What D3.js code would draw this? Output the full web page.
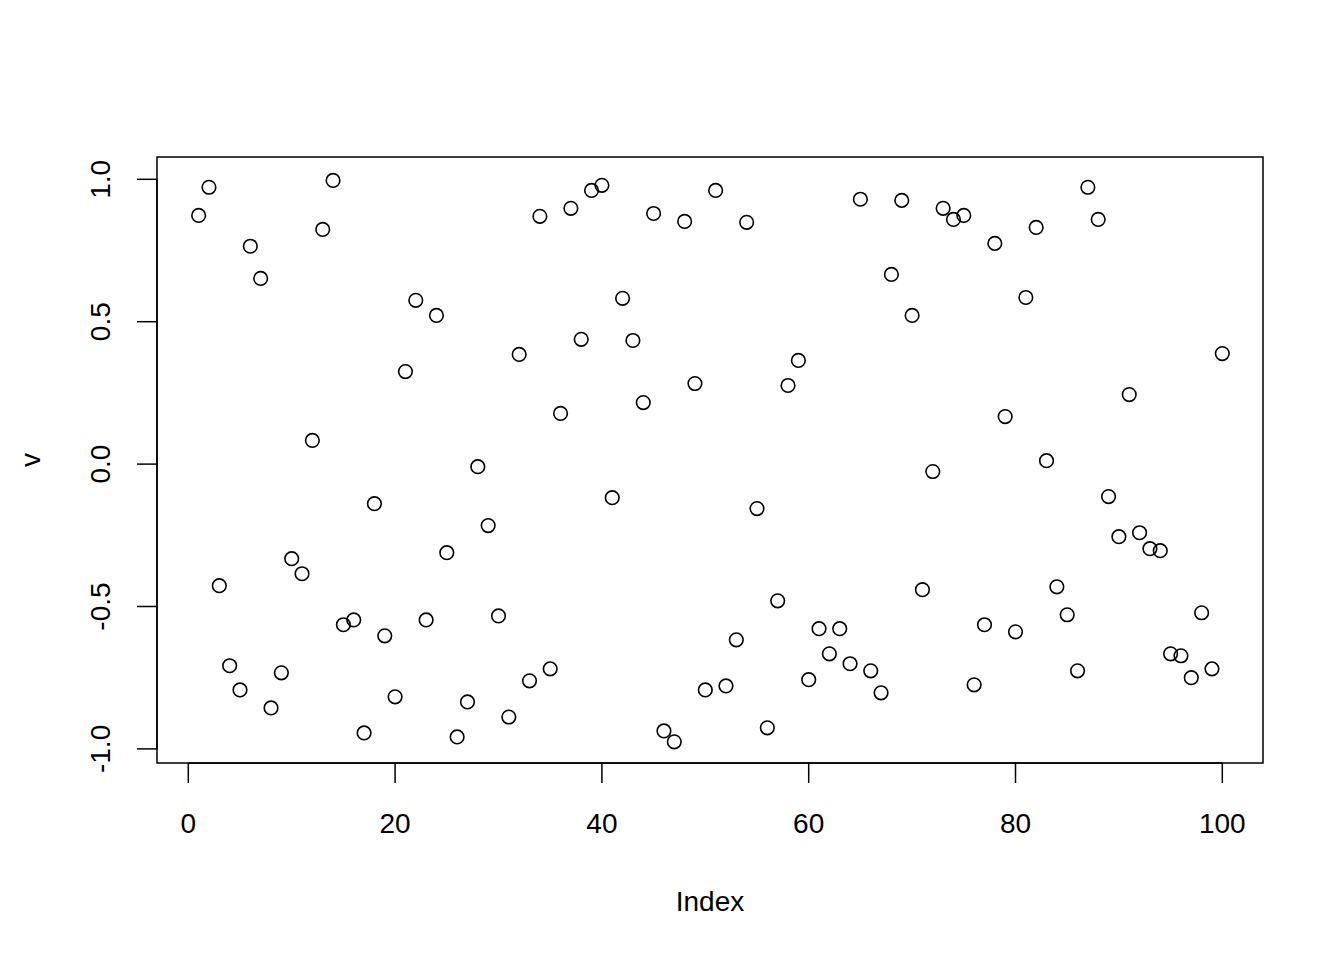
<!DOCTYPE html>
<html><head><meta charset="utf-8">
<script src="https://cdn.jsdelivr.net/npm/d3@7"></script>
<style>body{margin:0;background:#fff}text{font-family:"Liberation Sans",Arial,sans-serif}</style>
</head><body>
<svg id="c" width="1344" height="960"></svg>
<script>
const values = [0.873,0.972,-0.427,-0.708,-0.793,0.765,0.652,-0.856,-0.733,-0.332,
-0.385,0.083,0.824,0.996,-0.564,-0.547,-0.944,-0.139,-0.603,-0.817,
0.325,0.575,-0.547,0.522,-0.311,-0.958,-0.835,-0.009,-0.216,-0.533,
-0.888,0.385,-0.761,0.870,-0.719,0.178,0.898,0.438,0.961,0.979,
-0.118,0.582,0.434,0.216,0.880,-0.937,-0.975,0.852,0.283,-0.793,
0.961,-0.779,-0.617,0.849,-0.156,-0.926,-0.480,0.276,0.364,-0.757,
-0.578,-0.666,-0.578,-0.701,0.930,-0.726,-0.803,0.666,0.926,0.522,
-0.441,-0.026,0.898,0.859,0.873,-0.775,-0.564,0.775,0.167,-0.589,
0.585,0.831,0.012,-0.431,-0.529,-0.726,0.972,0.859,-0.114,-0.255,
0.244,-0.241,-0.297,-0.304,-0.666,-0.673,-0.750,-0.522,-0.719,0.388];
const xTicks = [0,20,40,60,80,100];
const yTicks = [-1.0,-0.5,0.0,0.5,1.0];
const xLabel = "Index", yLabel = "v";

const svg = d3.select("#c");
const box = {l:157, r:1263, t:157, b:763};
const x = d3.scaleLinear().domain([0,100]).range([188.3,1222.3]);
const y = d3.scaleLinear().domain([-1,1]).range([748.9,179.3]);

svg.append("rect").attr("x",box.l).attr("y",box.t).attr("width",box.r-box.l).attr("height",box.b-box.t)
  .attr("fill","none").attr("stroke","#000").attr("stroke-width",1.5);

// x axis
const gx = svg.append("g").attr("transform",`translate(0,${box.b})`);
gx.append("line").attr("x1",x(0)).attr("x2",x(100)).attr("stroke","#000").attr("stroke-width",1.5);
gx.selectAll("line.t").data(xTicks).join("line").attr("class","t")
  .attr("x1",d=>x(d)).attr("x2",d=>x(d)).attr("y1",0).attr("y2",20).attr("stroke","#000").attr("stroke-width",1.5);
gx.selectAll("text").data(xTicks).join("text").attr("x",d=>x(d)).attr("y",70)
  .attr("text-anchor","middle").attr("font-size",28).text(d=>d);

// y axis
const gy = svg.append("g").attr("transform",`translate(${box.l},0)`);
gy.append("line").attr("y1",y(-1)).attr("y2",y(1)).attr("stroke","#000").attr("stroke-width",1.5);
gy.selectAll("line.t").data(yTicks).join("line").attr("class","t")
  .attr("y1",d=>y(d)).attr("y2",d=>y(d)).attr("x1",0).attr("x2",-20).attr("stroke","#000").attr("stroke-width",1.5);
gy.selectAll("text").data(yTicks).join("text")
  .attr("transform",d=>`translate(-47,${y(d)}) rotate(-90)`)
  .attr("text-anchor","middle").attr("font-size",28).text(d=>d.toFixed(1));

svg.append("text").attr("x",(box.l+box.r)/2).attr("y",911).attr("text-anchor","middle").attr("font-size",28).text(xLabel);
svg.append("text").attr("transform",`translate(40,${(box.t+box.b)/2}) rotate(-90)`).attr("text-anchor","middle").attr("font-size",28).text(yLabel);

svg.selectAll("circle.p").data(values).join("circle").attr("class","p")
  .attr("cx",(d,i)=>x(i+1)).attr("cy",d=>y(d)).attr("r",6.8)
  .attr("fill","none").attr("stroke","#000").attr("stroke-width",1.6);
</script>
</body></html>
